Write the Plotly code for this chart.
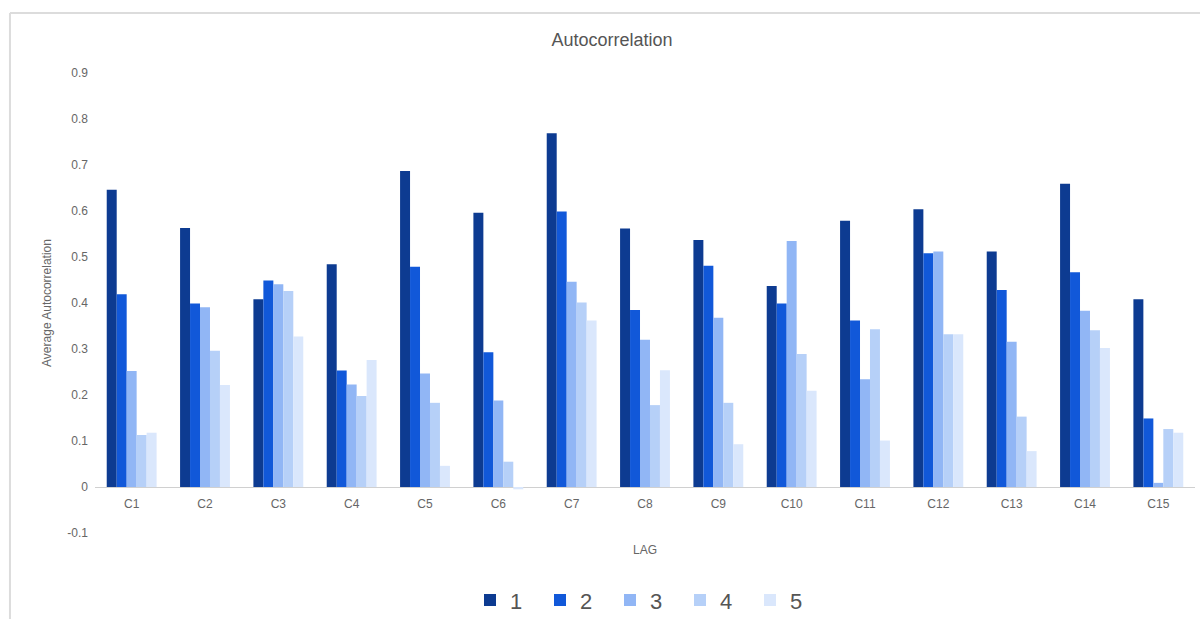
import plotly.graph_objects as go

# Category labels and the five lag series (average autocorrelation per category)
categories = ["C1", "C2", "C3", "C4", "C5", "C6", "C7", "C8", "C9", "C10",
              "C11", "C12", "C13", "C14", "C15"]
lag_names = ["1", "2", "3", "4", "5"]

lag1 = [0.646, 0.563, 0.408, 0.484, 0.687, 0.596, 0.769, 0.562, 0.537, 0.437,
        0.579, 0.604, 0.512, 0.659, 0.408]
lag2 = [0.419, 0.399, 0.449, 0.253, 0.479, 0.293, 0.599, 0.385, 0.481, 0.399,
        0.362, 0.508, 0.428, 0.467, 0.149]
lag3 = [0.252, 0.391, 0.441, 0.223, 0.247, 0.188, 0.446, 0.320, 0.368, 0.535,
        0.234, 0.512, 0.316, 0.383, 0.009]
lag4 = [0.113, 0.296, 0.426, 0.198, 0.183, 0.055, 0.401, 0.178, 0.183, 0.289,
        0.343, 0.332, 0.153, 0.341, 0.126]
lag5 = [0.118, 0.222, 0.327, 0.276, 0.046, -0.005, 0.362, 0.254, 0.093, 0.209,
        0.101, 0.332, 0.078, 0.302, 0.118]

y_tick_values = [-0.1, 0, 0.1, 0.2, 0.3, 0.4, 0.5, 0.6, 0.7, 0.8, 0.9]
y_tick_labels = ["-0.1", "0", "0.1", "0.2", "0.3", "0.4", "0.5", "0.6", "0.7", "0.8", "0.9"]

series = [lag1, lag2, lag3, lag4, lag5]
colors = ["#0d3b91", "#1158d9", "#91b6f5", "#b6d0f8", "#dae7fc"]

FONT = "Liberation Sans, Arial, sans-serif"

fig = go.Figure()
for name, vals, col in zip(lag_names, series, colors):
    fig.add_trace(go.Bar(name=name, x=categories, y=vals, marker=dict(color=col, line=dict(width=0))))

fig.update_layout(
    width=1200,
    height=619,
    margin=dict(l=95, r=5, t=73, b=86, autoexpand=False),
    paper_bgcolor="white",
    plot_bgcolor="white",
    barmode="group",
    bargap=0.32,
    bargroupgap=0,
    font=dict(family=FONT, color="#666666", size=12),
    title=dict(
        text="Autocorrelation",
        x=0.51, xref="container", xanchor="center",
        y=1 - 40 / 619, yref="container", yanchor="middle",
        font=dict(size=18, color="#555555", family=FONT),
    ),
    xaxis=dict(
        anchor="free",
        position=0.1,
        showgrid=False,
        showline=False,
        ticks="",
        ticklabelstandoff=8,
        tickfont=dict(size=12, color="#666666"),
        title=dict(text="LAG", font=dict(size=12, color="#666666"), standoff=35),
    ),
    yaxis=dict(
        range=[-0.1, 0.9],
        tickvals=y_tick_values,
        ticktext=y_tick_labels,
        showgrid=False,
        zeroline=True,
        zerolinecolor="#d0d0d0",
        zerolinewidth=1,
        ticks="",
        ticklabelstandoff=6,
        tickfont=dict(size=12, color="#666666"),
        title=dict(text="Average Autocorrelation", font=dict(size=12, color="#666666"), standoff=13),
    ),
    legend=dict(
        orientation="h",
        x=0.5, xanchor="center",
        y=-0.146, yanchor="middle",
        font=dict(size=22, color="#555555"),
        entrywidth=25,
        entrywidthmode="pixels",
        traceorder="normal",
    ),
    shapes=[
        # light frame around the chart
        dict(type="line", xref="paper", yref="paper",
             x0=-0.0773, x1=1.02, y0=1.1304, y1=1.1304,
             line=dict(color="#dcdcdc", width=2)),
        dict(type="line", xref="paper", yref="paper",
             x0=-0.0773, x1=-0.0773, y0=1.1304, y1=-0.25,
             line=dict(color="#dcdcdc", width=2)),
    ],
)

fig.write_html("out.html")
